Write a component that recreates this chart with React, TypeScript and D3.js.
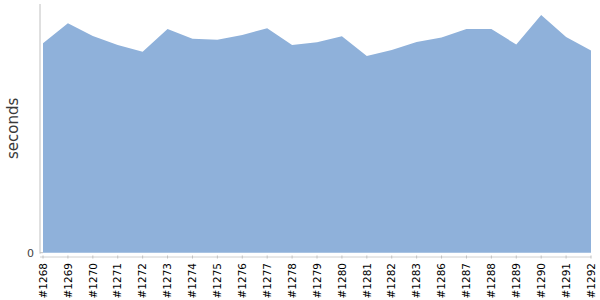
import React from "react";
import * as d3 from "d3";

const builds = [
  "#1268", "#1269", "#1270", "#1271", "#1272", "#1273", "#1274", "#1275",
  "#1276", "#1277", "#1278", "#1279", "#1280", "#1281", "#1282", "#1283",
  "#1286", "#1287", "#1288", "#1289", "#1290", "#1291", "#1292",
];
const seconds = [
  104.7, 114.7, 108.4, 103.9, 100.5, 111.9, 107.0, 106.5,
  108.9, 112.2, 103.9, 105.2, 108.2, 98.4, 101.4, 105.4,
  107.6, 111.8, 111.8, 104.1, 118.9, 107.9, 101.1,
];
const yTicks = [0];
const yMax = 124.35;

const W = 600;
const H = 300;
const axisX = 40;
const plotLeft = 43;
const plotRight = 591;
const plotTop = 4;
const plotBottom = 252.7;
const xAxisY = 257;

export default function App() {
  const x = d3.scalePoint<string>().domain(builds).range([plotLeft, plotRight]);
  const y = d3.scaleLinear().domain([0, yMax]).range([plotBottom, plotTop]);
  const data = builds.map((b, i) => ({ b, v: seconds[i] }));
  const area = d3
    .area<{ b: string; v: number }>()
    .x((d) => x(d.b) as number)
    .y0(y(0))
    .y1((d) => y(d.v));

  return (
    <svg
      width={W}
      height={H}
      style={{ position: "fixed", left: 0, top: 0, background: "#fff" }}
      fontFamily="DejaVu Sans, sans-serif"
    >
      <path d={area(data) || ""} fill="#8fb1da" />
      <line x1={axisX} x2={axisX} y1={plotTop} y2={plotBottom + 1} stroke="#c0c0c0" strokeWidth={1} />
      {yTicks.map((t) => (
        <g key={t}>
          <line x1={axisX} x2={axisX + 3} y1={y(t)} y2={y(t)} stroke="#c0c0c0" />
          <text x={34} y={y(t)} dy="0.35em" textAnchor="end" fontSize={11} fill="#444">
            {t}
          </text>
        </g>
      ))}
      <line x1={axisX} x2={plotRight} y1={xAxisY} y2={xAxisY} stroke="#d0d0d0" strokeWidth={1} />
      {builds.map((b) => {
        const xp = x(b) as number;
        return (
          <g key={b}>
            <line x1={xp} x2={xp} y1={xAxisY - 1.5} y2={xAxisY + 1.5} stroke="#c0c0c0" />
            <text
              transform={`translate(${xp},${263}) rotate(-90)`}
              dy="0.35em"
              textAnchor="end"
              fontSize={10.5}
              fill="#000"
            >
              {b}
            </text>
          </g>
        );
      })}
      <text
        transform={`translate(13,${(plotTop + plotBottom) / 2}) rotate(-90)`}
        dy="0.35em"
        textAnchor="middle"
        fontSize={15}
        fill="#3a3a3a"
      >
        seconds
      </text>
    </svg>
  );
}
